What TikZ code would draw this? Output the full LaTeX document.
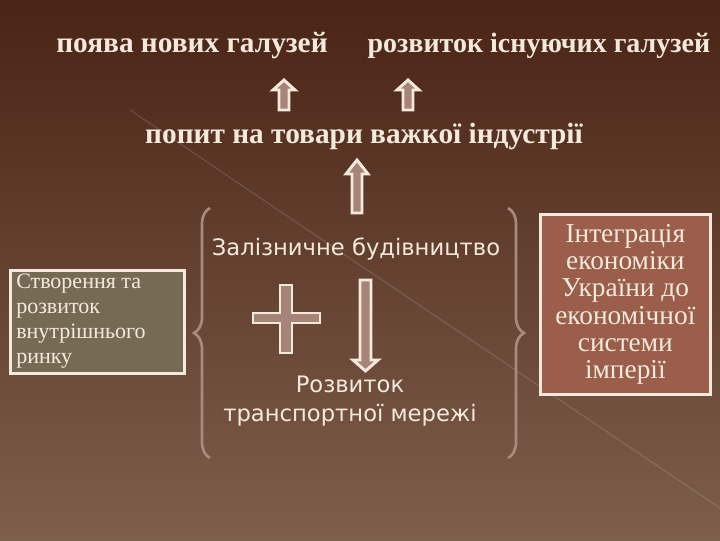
\documentclass[tikz,border=0pt]{standalone}
\usepackage{fontspec}
\setmainfont{Liberation Serif}
\newfontfamily\dvs{DejaVu Sans}
\usetikzlibrary{decorations.pathreplacing}
\definecolor{cream}{HTML}{F4EADC}
\definecolor{taupe}{HTML}{A68478}
\definecolor{bgtop}{HTML}{4A2416}
\definecolor{bgbot}{HTML}{7E5E4C}
\definecolor{olivebox}{HTML}{766A55}
\definecolor{redbox}{HTML}{9A5E4A}
\definecolor{bracec}{HTML}{A88A7E}
\tikzset{
  ttl/.style={text=cream,font=\fontsize{22}{26}\selectfont\bfseries},
  sans/.style={text=cream,font=\dvs\fontsize{17}{22}\selectfont,align=center},
  blk/.style={fill=taupe,draw=cream,line width=2.2pt,line join=miter},
  brc/.style={draw=bracec,line width=2pt,decorate,decoration={brace,amplitude=12pt}},
}
\newcommand{\uparr}[4]{% x, top y, bottom y, head height
  \path[blk] (#1-5,#3) -- (#1-5,#2+#4) -- (#1-11,#2+#4) -- (#1,#2) -- (#1+11,#2+#4) -- (#1+5,#2+#4) -- (#1+5,#3) -- cycle;}
\begin{document}
\begin{tikzpicture}[x=0.75pt,y=-0.75pt]
\shade[top color=bgtop,bottom color=bgbot] (0,0) rectangle (720,540);
\useasboundingbox (0,0) rectangle (720,540);
\draw[white,opacity=0.12,line width=1pt] (130,110) -- (720,508);
\node[ttl] (a) at (192,46) {поява нових галузей};
\node[ttl,anchor=west,font=\fontsize{21}{26}\selectfont\bfseries,inner sep=1pt] (b) at (366,46) {розвиток існуючих галузей};
\node[ttl] (c) at (364,136) {попит на товари важкої індустрії};
\uparr{284}{80}{110}{10}
\uparr{408}{80}{110}{10}
\uparr{357}{160}{213}{14}
\node[sans] (d) at (356,249) {Залізничне будівництво};
\node[sans] (e) at (350,401) {Розвиток\\[0pt]транспортної мережі};
% plus
\path[blk] (280,285) -- (292,285) -- (292,313) -- (320,313) -- (320,323) -- (292,323) -- (292,353) -- (280,353) -- (280,323) -- (253,323) -- (253,313) -- (280,313) -- cycle;
% down arrow
\path[blk] (360,280) -- (371,280) -- (371,360) -- (378,360) -- (365.5,371) -- (353,360) -- (360,360) -- cycle;
% braces
\coordinate (bl1) at (210,458); \coordinate (bl2) at (210,208);
\coordinate (br1) at (508,208); \coordinate (br2) at (508,458);
\draw[brc] (bl1) -- (bl2);
\draw[brc] (br1) -- (br2);
\node[draw=cream,line width=2pt,fill=olivebox,minimum width=174pt*0.75,minimum height=103pt*0.75,anchor=north west,inner sep=2pt] (f) at (9,269) {};
\node[anchor=north west,text=cream,font=\fontsize{16.5}{18.7}\selectfont,align=left,inner sep=0pt] at (16,274) {Створення  та\\розвиток\\внутрішнього\\ринку};
\node[draw=cream,line width=2pt,fill=redbox,minimum width=170pt*0.75,minimum height=180pt*0.75,anchor=north west,text=cream,font=\fontsize{20.5}{20.3}\selectfont,align=center] (g) at (539,213) {Інтеграція\\економіки\\України до\\економічної\\системи\\імперії};
\end{tikzpicture}
\end{document}
